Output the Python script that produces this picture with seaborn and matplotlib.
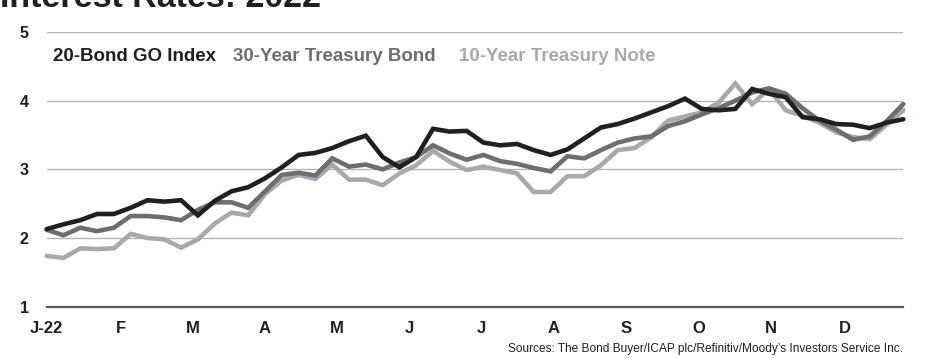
import numpy as np
import pandas as pd
import matplotlib
matplotlib.use("Agg")
import matplotlib.pyplot as plt
import seaborn as sns

# ---- data (weekly, 2022) ----
go_index = [2.13, 2.20, 2.26, 2.35, 2.35, 2.44, 2.55, 2.53, 2.55, 2.33,
            2.54, 2.68, 2.74, 2.87, 3.03, 3.21, 3.24, 3.31, 3.41, 3.49,
            3.18, 3.03, 3.18, 3.59, 3.55, 3.56, 3.39, 3.35, 3.37, 3.28,
            3.21, 3.29, 3.45, 3.61, 3.66, 3.74, 3.83, 3.92, 4.03, 3.88,
            3.86, 3.88, 4.17, 4.10, 4.05, 3.76, 3.73, 3.66, 3.65, 3.60,
            3.68, 3.73]
tsy30 = [2.12, 2.04, 2.15, 2.10, 2.15, 2.32, 2.32, 2.30, 2.26, 2.41,
         2.52, 2.52, 2.44, 2.68, 2.92, 2.95, 2.91, 3.16, 3.04, 3.07,
         3.00, 3.10, 3.18, 3.35, 3.23, 3.14, 3.21, 3.12, 3.08, 3.02,
         2.97, 3.19, 3.16, 3.28, 3.39, 3.45, 3.48, 3.63, 3.70, 3.80,
         3.89, 4.00, 4.12, 4.18, 4.10, 3.89, 3.71, 3.58, 3.43, 3.48,
         3.70, 3.95]
tsy10 = [1.74, 1.71, 1.85, 1.84, 1.85, 2.06, 2.00, 1.98, 1.86, 1.98,
         2.21, 2.37, 2.33, 2.64, 2.84, 2.92, 2.86, 3.07, 2.85, 2.85,
         2.77, 2.94, 3.06, 3.27, 3.11, 2.99, 3.04, 2.99, 2.94, 2.67,
         2.67, 2.90, 2.90, 3.06, 3.28, 3.31, 3.47, 3.71, 3.77, 3.83,
         3.97, 4.25, 3.95, 4.17, 3.86, 3.78, 3.68, 3.54, 3.47, 3.44,
         3.65, 3.86]
series_names = ["10-Year Treasury Note", "30-Year Treasury Bond", "20-Bond GO Index"]
series_colors = ["#a7a9ac", "#6d6e71", "#231f20"]
month_labels = ["J-22", "F", "M", "A", "M", "J", "J", "A", "S", "O", "N", "D"]
month_pos = [0, 4.4, 8.67, 12.95, 17.3, 21.57, 25.85, 30.2, 34.5, 38.8, 43.1, 47.5]
y_ticks = [1, 2, 3, 4, 5]

weeks = np.arange(len(go_index))
df = pd.concat([
    pd.DataFrame({"week": weeks, "rate": tsy10, "series": series_names[0]}),
    pd.DataFrame({"week": weeks, "rate": tsy30, "series": series_names[1]}),
    pd.DataFrame({"week": weeks, "rate": go_index, "series": series_names[2]}),
])

sns.set_style("white")
fam = ["Liberation Sans", "DejaVu Sans"]
plt.rcParams["font.family"] = fam

W, H = 926, 358
fig = plt.figure(figsize=(W / 100, H / 100), dpi=100)
left, right, top, bottom = 46.7, 903.3, 32.0, 306.7
ax = fig.add_axes([left / W, 1 - bottom / H, (right - left) / W, (bottom - top) / H])

sns.lineplot(data=df, x="week", y="rate", hue="series", hue_order=series_names,
             palette=series_colors, linewidth=3.3, legend=False, ax=ax,
             estimator=None, sort=False)
for ln in ax.lines:
    ln.set_clip_on(False)
    ln.set_solid_joinstyle("miter")

ax.set_xlim(0, len(go_index) - 1)
ax.set_ylim(1, 5)
ax.set_xlabel("")
ax.set_ylabel("")

ax.set_yticks(y_ticks)
ax.set_yticklabels([str(v) for v in y_ticks], fontsize=11.5, fontweight="bold",
                   color="#231f20")
ax.tick_params(axis="y", length=0, pad=13)
ax.yaxis.grid(True, color="#b5b5b5", linewidth=1.0)
ax.set_axisbelow(True)
ax.get_yticklabels()[0].set_y(0.93)

ax.set_xticks(month_pos)
ax.set_xticklabels(month_labels, fontsize=12, fontweight="bold", color="#231f20")
ax.tick_params(axis="x", which="major", length=0, pad=10)
ax.set_xticks(np.linspace(0, len(go_index) - 1, 58), minor=True)
ax.tick_params(axis="x", which="minor", direction="in", length=4.5, width=0.9,
               color="#4d4d4f")

for s in ["top", "right", "left"]:
    ax.spines[s].set_visible(False)
ax.spines["bottom"].set_color("#58595b")
ax.spines["bottom"].set_linewidth(1.6)
ax.spines["bottom"].set_zorder(5)

# legend as coloured text
leg_y = 1 - 61 / H
fig.text(53 / W, leg_y, "20-Bond GO Index", color=series_colors[2],
         fontsize=13.5, fontweight="bold", va="baseline")
fig.text(233 / W, leg_y, "30-Year Treasury Bond", color=series_colors[1],
         fontsize=13.5, fontweight="bold", va="baseline")
fig.text(459 / W, leg_y, "10-Year Treasury Note", color=series_colors[0],
         fontsize=13.5, fontweight="bold", va="baseline")

# clipped title
fig.text(0 / W, 1 - 7 / H, "Interest Rates: 2022", color="#231f20",
         fontsize=24.5, fontweight="bold", va="baseline")

# source
fig.text(903 / W, 1 - 352 / H,
         "Sources: The Bond Buyer/ICAP plc/Refinitiv/Moody\u2019s Investors Service Inc.",
         color="#231f20", fontsize=8.6, ha="right", va="baseline")

fig.savefig("out.png", dpi=100)
